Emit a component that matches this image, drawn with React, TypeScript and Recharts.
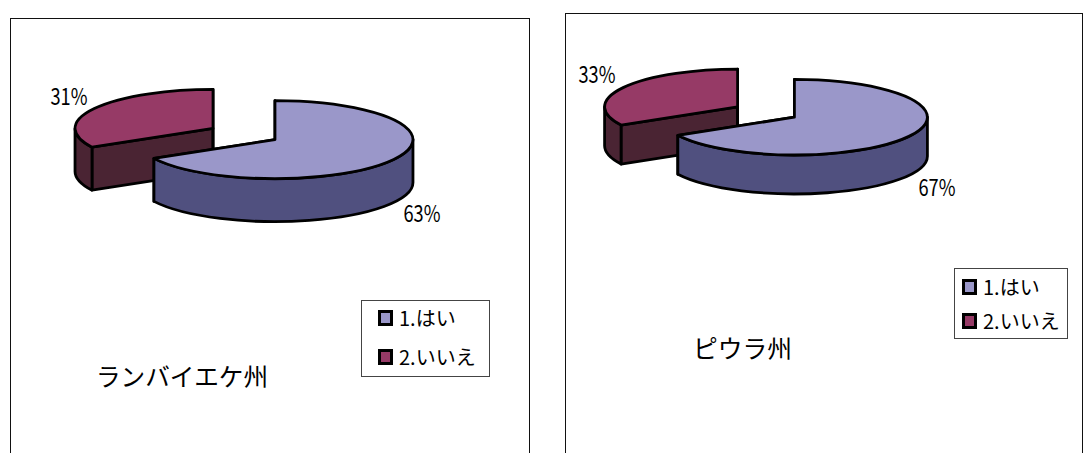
import { Legend, Pie, PieChart } from 'recharts'

const categories = ['1.はい', '2.いいえ']
const seriesColors = ['#9a97c9', '#963a66']
const sideColors = ['#50507f', '#4a2433']

const lambayequeValues = [63, 31]
const piuraValues = [67, 33]

const FONT = '"Noto Sans CJK JP", "Noto Sans", sans-serif'

interface PanelProps {
  title: string
  values: number[]
  left: number
  top: number
  width: number
  cx: number
  cy: number
  radius: number
  squash: number
  depth: number
  explode: number
  titleAt: [number, number]
  titleWidth: number
  labelAt: [number, number][]
  legendBox: { left: number; top: number; width: number; height: number }
  legendLeft: number
  legendRows: number[]
}

const rad = (deg: number) => (deg * Math.PI) / 180

// 3D wedge: flattens the sector the Pie hands us into an ellipse and extrudes it
const makeWedge = (squash: number, depth: number, explode: number) =>
  // eslint-disable-next-line @typescript-eslint/no-explicit-any
  (props: any) => {
    const { cx, cy, outerRadius: r, startAngle, endAngle, midAngle, index } = props
    const ox = cx + explode * Math.cos(rad(midAngle))
    const oy = cy - explode * squash * 1.08 * Math.sin(rad(midAngle))
    const ry = r * squash
    const px = (a: number) => ox + r * Math.cos(rad(a))
    const py = (a: number, z = 0) => oy - ry * Math.sin(rad(a)) + z
    const large = startAngle - endAngle > 180 ? 1 : 0

    const top =
      `M${ox},${oy} L${px(startAngle)},${py(startAngle)} ` +
      `A${r},${ry} 0 ${large} 1 ${px(endAngle)},${py(endAngle)} Z`

    const cutWall = (a: number) =>
      `M${ox},${oy} L${px(a)},${py(a)} L${px(a)},${py(a, depth)} L${ox},${oy + depth} Z`

    // only the part of the rim between 180 and 360 degrees faces the viewer
    let rim = ''
    for (const shift of [-360, 0, 360]) {
      const from = Math.min(startAngle + shift, 0)
      const to = Math.max(endAngle + shift, -180)
      if (from > to) {
        const big = from - to > 180 ? 1 : 0
        rim =
          `M${px(from)},${py(from)} A${r},${ry} 0 ${big} 1 ${px(to)},${py(to)} ` +
          `L${px(to)},${py(to, depth)} A${r},${ry} 0 ${big} 0 ${px(from)},${py(from, depth)} Z`
      }
    }

    const side = sideColors[categories.length - 1 - index]
    return (
      <g stroke="#000" strokeWidth={2.8} strokeLinejoin="round">
        <path d={cutWall(startAngle)} fill={side} />
        <path d={cutWall(endAngle)} fill={side} />
        {rim && <path d={rim} fill={side} />}
        <path d={top} fill={props.fill} />
      </g>
    )
  }

const Panel = (p: PanelProps) => {
  // the back slice goes first so the front slice paints over it
  const chartData = categories
    .map((name, i) => ({ name, value: p.values[i], fill: seriesColors[i] }))
    .reverse()
  const total = p.values[0] + p.values[1]
  const startAngle = 90 + (360 * p.values[1]) / total
  const wedge = makeWedge(p.squash, p.depth, p.explode)

  // eslint-disable-next-line @typescript-eslint/no-explicit-any
  const renderLabel = (props: any) => {
    const [x, y] = p.labelAt[props.index]
    return (
      <text
        x={x}
        y={y}
        fontFamily={FONT}
        fontSize={23}
        fill="#000"
        textAnchor="middle"
        textLength={37}
        lengthAdjust="spacingAndGlyphs"
      >
        {`${props.value}%`}
      </text>
    )
  }

  return (
    <div
      style={{
        position: 'absolute',
        left: p.left,
        top: p.top,
        width: p.width,
        height: 470,
        border: '1px solid #111',
        boxSizing: 'border-box',
      }}
    >
      <PieChart
        width={p.width - 2}
        height={468}
        margin={{ top: 0, right: 0, bottom: 0, left: 0 }}
        style={{ position: 'absolute', left: 0, top: 0 }}
      >
        <Pie
          data={chartData}
          dataKey="value"
          nameKey="name"
          cx={p.cx}
          cy={p.cy}
          outerRadius={p.radius}
          startAngle={startAngle}
          endAngle={startAngle - 360}
          shape={wedge}
          inactiveShape={wedge}
          label={renderLabel}
          labelLine={false}
          isAnimationActive={false}
        />
        <text
          x={p.titleAt[0]}
          y={p.titleAt[1]}
          fontFamily={FONT}
          fontSize={25}
          fill="#000"
          textLength={p.titleWidth}
          lengthAdjust="spacingAndGlyphs"
        >
          {p.title}
        </text>
        <Legend
          layout="vertical"
          wrapperStyle={{
            position: 'absolute',
            boxSizing: 'border-box',
            background: '#fff',
            border: '1px solid #444',
            ...p.legendBox,
            bottom: 'auto',
            right: 'auto',
          }}
          content={({ payload }) => (
            <div style={{ fontFamily: FONT, fontSize: 20, color: '#000' }}>
              {categories.map((name, i) => {
                const item = (payload ?? []).find((entry) => entry.value === name)
                return (
                  <div
                    key={name}
                    style={{
                      display: 'flex',
                      alignItems: 'center',
                      position: 'absolute',
                      left: p.legendLeft,
                      top: p.legendRows[i],
                      lineHeight: '24px',
                      whiteSpace: 'nowrap',
                    }}
                  >
                    <span
                      style={{
                        display: 'inline-block',
                        width: 15,
                        height: 16,
                        boxSizing: 'border-box',
                        border: '3px solid #000',
                        background: item?.color,
                        marginRight: 6,
                      }}
                    />
                    {name}
                  </div>
                )
              })}
            </div>
          )}
        />
      </PieChart>
    </div>
  )
}

export default function App() {
  return (
    <div style={{ position: 'absolute', left: 0, top: 0, width: 1083, height: 453, overflow: 'hidden', background: '#fff' }}>
      <Panel
        title="ランバイエケ州"
        values={lambayequeValues}
        left={10}
        top={18}
        width={520}
        cx={233}
        cy={115}
        radius={138}
        squash={0.283}
        depth={43}
        explode={36}
        titleAt={[85, 367]}
        titleWidth={172}
        labelAt={[[58, 86], [411, 203]]}
        legendBox={{ left: 350, top: 281, width: 129, height: 77 }}
        legendLeft={16}
        legendRows={[5, 44]}
      />
      <Panel
        title="ピウラ州"
        values={piuraValues}
        left={565}
        top={13}
        width={518}
        cx={200}
        cy={98}
        radius={133}
        squash={0.284}
        depth={39}
        explode={33}
        titleAt={[127, 344]}
        titleWidth={99}
        labelAt={[[31, 69], [371, 182]]}
        legendBox={{ left: 388, top: 254, width: 114, height: 71 }}
        legendLeft={7}
        legendRows={[6, 40]}
      />
    </div>
  )
}
